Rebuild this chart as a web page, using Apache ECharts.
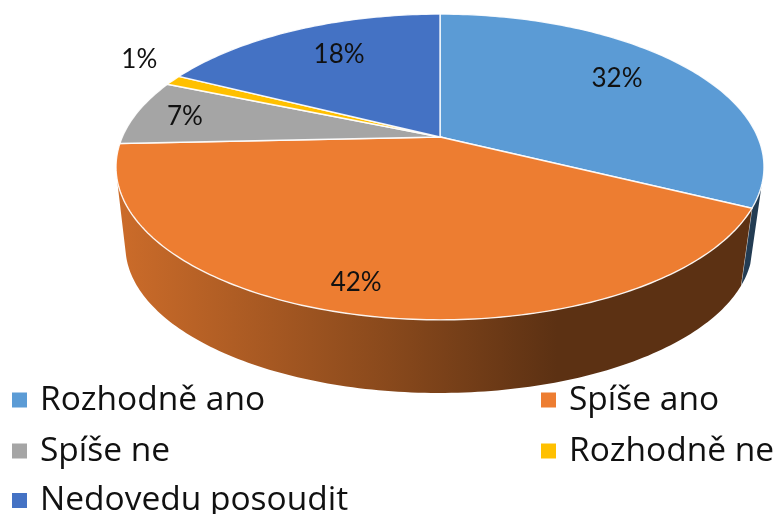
<!DOCTYPE html>
<html><head><meta charset="utf-8">
<style>html,body{margin:0;padding:0;background:#fff}#c{width:778px;height:514px;filter:blur(0.5px)}</style>
<script src="https://cdn.jsdelivr.net/npm/echarts@6/dist/echarts.min.js"></script>
</head><body><div id="c"></div>
<script>
const categories = ['Rozhodně ano','Spíše ano','Spíše ne','Rozhodně ne','Nedovedu posoudit'];
const values = [32.3,42.0,7.0,1.1,17.6];
const colors = ['#5B9BD5','#ED7D31','#A5A5A5','#FFC000','#4472C4'];
// label placement relative to each slice: angle shift (deg) and radial fraction
const labelShift = [-4.3,3.2,0.4,4.9,2.6];
const labelRadius = [0.75,0.851,0.841,1.216,0.736];
// legend slots
const legendLeft = [12,541,12,541,12];
const legendTop = [383,383,434,434,483.5];

const FONT = 'Lato';
const LEGEND_FONT = 'Open Sans';
const total = values.reduce((a,b)=>a+b,0);
const top0 = {cx:440,cy:137,a:317.7,b:147,k:0.196};
const bot0 = {cx:439,cy:217.6,a:307.5,b:141,k:0.196};
function ring(p,deg,r){
  r = r===undefined?1:r;
  const t=deg*Math.PI/180,u=Math.sin(t)*r,v=-Math.cos(t)*r,w=1-p.k*v;
  return [p.cx+p.a*u/w,p.cy+p.b*v/w];
}
function arc(p,a0,a1){
  const pts=[],n=Math.max(2,Math.ceil(Math.abs(a1-a0)));
  for(let i=0;i<=n;i++)pts.push(ring(p,a0+(a1-a0)*i/n));
  return pts;
}
function shade(hex,f){
  const n=parseInt(hex.slice(1),16);
  return 'rgb('+[(n>>16)&255,(n>>8)&255,n&255].map(c=>Math.round(c*f)).join(',')+')';
}
function wallFill(col){
  return new echarts.graphic.LinearGradient(116,0,764,0,[
    {offset:0,color:shade(col,0.86)},
    {offset:0.42,color:shade(col,0.58)},
    {offset:0.68,color:shade(col,0.39)},
    {offset:1,color:shade(col,0.39)}],true);
}
const WALL_FROM=108, WALL_TO=255;
function renderSlice(params){
  const i=params.seriesIndex;
  const start=values.slice(0,i).reduce((a,b)=>a+b,0)/total*360;
  const end=start+values[i]/total*360;
  const kids=[];
  const w0=Math.max(start,WALL_FROM),w1=Math.min(end,WALL_TO);
  if(w1>w0){
    kids.push({type:'polygon',shape:{points:arc(top0,w0,w1).concat(arc(bot0,w1,w0))},
      style:{fill:wallFill(colors[i]),lineWidth:0}});
    if(end<WALL_TO){kids.push({type:'line',shape:{x1:ring(top0,end)[0],y1:ring(top0,end)[1],x2:ring(bot0,end)[0],y2:ring(bot0,end)[1]},
      style:{stroke:'rgba(255,255,255,0.7)',lineWidth:1}});}
  }
  kids.push({type:'polygon',shape:{points:[ring(top0,0,0)].concat(arc(top0,start,end))},
    style:{fill:colors[i],stroke:'rgba(255,255,255,0.9)',lineWidth:1.4}});
  const mid=(start+end)/2+labelShift[i];
  const lp=ring(top0,mid,labelRadius[i]);
  kids.push({type:'text',z2:10,style:{text:Math.round(values[i])+'%',x:lp[0],y:lp[1]+1.5,align:'center',verticalAlign:'middle',
    fontFamily:FONT,fontSize:26,fill:'#111'}});
  return {type:'group',children:kids};
}
const chart=echarts.init(document.getElementById('c'),null,{renderer:'canvas'});
chart.setOption({
  animation:false,
  backgroundColor:'#fff',
  legend:categories.map((n,i)=>({
    data:[n],left:legendLeft[i],top:legendTop[i],icon:'rect',itemWidth:15,itemHeight:15,selectedMode:false,padding:0,
    textStyle:{fontFamily:LEGEND_FONT,fontSize:33.5,color:'#111',padding:[0,0,0,8]}
  })),
  series:categories.map((n,i)=>({
    type:'custom',name:n,coordinateSystem:'none',silent:true,
    itemStyle:{color:colors[i]},
    data:[[values[i]]],
    renderItem:renderSlice
  }))
});
</script></body></html>
